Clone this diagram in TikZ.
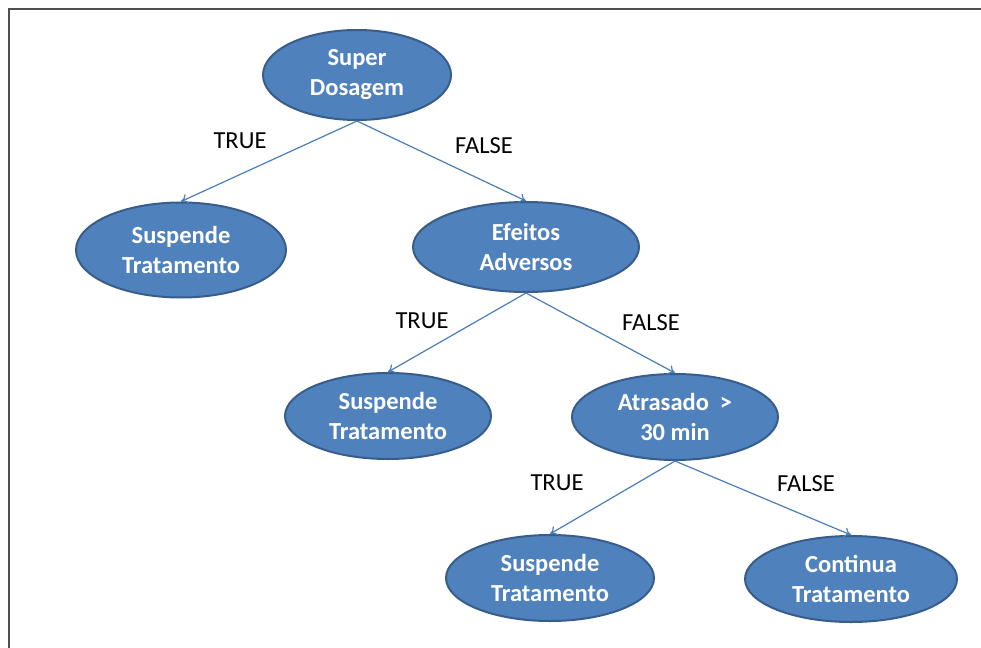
\documentclass[tikz,border=0pt]{standalone}
\usepackage{fontspec}
\setmainfont{Carlito}
\usetikzlibrary{shapes.geometric,arrows.meta}
\definecolor{nodefill}{HTML}{4F81BD}
\definecolor{nodeline}{HTML}{385D8A}
\definecolor{edgecol}{HTML}{4A7EBB}
\definecolor{framecol}{HTML}{505050}
\tikzset{
  decision/.style={ellipse, draw=nodeline, line width=2pt, fill=nodefill,
    inner sep=0pt, text=white, align=center,
    font=\fontsize{24.5}{30}\selectfont\bfseries},
  edge/.style={draw=edgecol, line width=1.2pt, -{To[length=7pt,width=10pt]}},
  branch/.style={font=\fontsize{24.5}{30}\selectfont, text=black, inner sep=0pt}
}
\begin{document}
\begin{tikzpicture}[x=1pt,y=-1pt]
\useasboundingbox (0,0) rectangle (981,647);
\fill[white] (0,0) rectangle (981,647);
% frame: top and left rules
\draw[framecol, line width=2pt] (985,9) -- (9,9) -- (9,650);

% decision nodes
\node[decision, minimum width=188pt, minimum height=90pt] (sd) at (357,75) {Super\\Dosagem};
\node[decision, minimum width=210pt, minimum height=95pt] (st1) at (181,250) {Suspende\\Tratamento};
\node[decision, minimum width=226pt, minimum height=90pt] (ea) at (526,247) {Efeitos\\Adversos};
\node[decision, minimum width=206pt, minimum height=86pt] (st2) at (388,416) {Suspende\\Tratamento};
\node[decision, minimum width=206pt, minimum height=86pt] (at) at (675,417) {Atrasado\ \ >\\30 min};
\node[decision, minimum width=208pt, minimum height=86pt] (st3) at (550,578) {Suspende\\Tratamento};
\node[decision, minimum width=212pt, minimum height=86pt] (ct) at (851,579) {Continua\\Tratamento};

% branches
\draw[edge] (sd.south) -- (st1.north);
\draw[edge] (sd.south) -- (ea.north);
\draw[edge] (ea.south) -- (st2.north);
\draw[edge] (ea.south) -- (at.north);
\draw[edge] (at.south) -- (st3.north);
\draw[edge] (at.south) -- (ct.north);

% branch labels
\node[branch] (l1) at (240,141) {TRUE};
\node[branch] (l2) at (484,146) {FALSE};
\node[branch] (l3) at (422,321) {TRUE};
\node[branch] (l4) at (651,323) {FALSE};
\node[branch] (l5) at (557,483) {TRUE};
\node[branch] (l6) at (806,484) {FALSE};
\end{tikzpicture}
\end{document}
